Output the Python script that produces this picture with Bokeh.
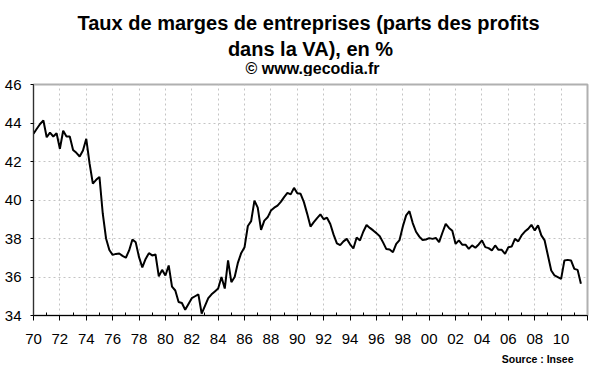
from bokeh.plotting import figure
from bokeh.models import FixedTicker, Range1d
from bokeh.layouts import column
from bokeh.core.properties import value
from bokeh.embed import file_html
from bokeh.resources import INLINE

# Quarterly margin rate (%), starting 1970 Q1
margin_rate = [
    43.44, 43.70, 43.95, 44.13,  # 1970
    43.26, 43.50, 43.30, 43.47,  # 1971
    42.66, 43.60, 43.30, 43.30,  # 1972
    42.60, 42.45, 42.26, 42.57,  # 1973
    43.18, 41.90, 40.85, 41.05,  # 1974
    41.20, 39.30, 38.00, 37.40,  # 1975
    37.15, 37.20, 37.22, 37.10,  # 1976
    37.00, 37.38, 37.95, 37.80,  # 1977
    37.03, 36.50, 36.94, 37.24,  # 1978
    37.12, 37.17, 36.03, 36.37,  # 1979
    36.08, 36.60, 35.50, 35.30,  # 1980
    34.70, 34.65, 34.30, 34.60,  # 1981
    34.90, 35.00, 35.10, 34.10,  # 1982
    34.50, 34.90, 35.10, 35.25,  # 1983
    35.40, 36.00, 35.40, 36.86,  # 1984
    35.73, 36.00, 36.75, 37.25,  # 1985
    37.55, 38.65, 38.90, 39.97,  # 1986
    39.60, 38.45, 38.93, 39.10,  # 1987
    39.45, 39.60, 39.71, 39.90,  # 1988
    40.15, 40.37, 40.29, 40.63,  # 1989
    40.35, 40.32, 39.89, 39.28,  # 1990
    38.62, 38.85, 39.06, 39.25,  # 1991
    39.00, 39.08, 38.75, 38.20,  # 1992
    37.75, 37.66, 37.85, 37.98,  # 1993
    37.70, 37.48, 38.05, 37.90,  # 1994
    38.35, 38.70, 38.55, 38.42,  # 1995
    38.28, 38.12, 37.80, 37.45,  # 1996
    37.43, 37.29, 37.72, 37.92,  # 1997
    38.62, 39.20, 39.42, 38.80,  # 1998
    38.35, 38.10, 37.92, 37.95,  # 1999
    38.02, 37.98, 38.03, 37.81,  # 2000
    38.30, 38.76, 38.55, 38.40,  # 2001
    37.72, 37.90, 37.68, 37.68,  # 2002
    37.46, 37.64, 37.52, 37.69,  # 2003
    37.90, 37.55, 37.50, 37.38,  # 2004
    37.64, 37.41, 37.41, 37.20,  # 2005
    37.55, 37.58, 37.98, 37.85,  # 2006
    38.16, 38.36, 38.50, 38.71,  # 2007
    38.42, 38.68, 38.16, 37.90,  # 2008
    37.12, 36.34, 36.08, 35.99,  # 2009
    35.90, 36.86, 36.89, 36.86,  # 2010
    36.42, 36.37, 35.65,         # 2011
]
start_year = 1970
quarter_years = [start_year + i / 4 for i in range(len(margin_rate))]

tick_years = list(range(1970, 2013, 2))
tick_labels = ["70", "72", "74", "76", "78", "80", "82", "84", "86", "88", "90",
               "92", "94", "96", "98", "00", "02", "04", "06", "08", "10", ""]
minor_years = list(range(1971, 2013, 2))
y_ticks = [34, 36, 38, 40, 42, 44, 46]

title_lines = ["Taux de marges de entreprises (parts des profits",
               "dans la VA), en %",
               "\u00a9 www.gecodia.fr"]
source_text = "Source : Insee"

FONT = "Liberation Sans"
W = 600
BL, BR = 33, 13                      # shared left / right borders (px)
HEAD_H, CHART_H, FOOT_H = 76, 276, 20


def blank(height):
    # pixel-coordinate panel (x = page px, y = px from its top)
    f = figure(width=W, height=height, output_backend="svg", toolbar_location=None,
               x_range=Range1d(BL, W - BR), y_range=Range1d(height, 0),
               x_axis_type=None, y_axis_type=None,
               min_border_left=BL, min_border_right=BR,
               min_border_top=0, min_border_bottom=0)
    f.outline_line_color = None
    f.grid.visible = False
    f.background_fill_color = "white"
    f.border_fill_color = "white"
    return f


# ---- header with the three title lines
head = blank(HEAD_H)
title_cx = [308, 310, 312]
title_base = [22.2, 48.8, 67.5]
title_sizes = ["20px", "20px", "16px"]
for txt, cx, by, fs in zip(title_lines, title_cx, title_base, title_sizes):
    head.text(x=[cx], y=[by], text=[txt], text_align="center",
              text_baseline="alphabetic", text_font=value(FONT),
              text_font_size=value(fs), text_font_style="bold",
              text_color="black")

# ---- main chart
p = figure(width=W, height=CHART_H, output_backend="svg", toolbar_location=None,
           x_range=Range1d(1970, 2012), y_range=Range1d(34, 46),
           min_border_left=BL, min_border_right=BR, min_border_top=8,
           min_border_bottom=37)
p.background_fill_color = "white"
p.border_fill_color = "white"
p.outline_line_color = "#b0b0b0"
p.outline_line_width = 2

p.line(quarter_years, margin_rate, line_color="black", line_width=2)

xt = FixedTicker(ticks=tick_years, minor_ticks=minor_years)
p.xaxis.ticker = xt
p.xaxis.major_label_overrides = {y: l for y, l in zip(tick_years, tick_labels)}
p.xaxis.major_label_text_font = FONT
p.xaxis.major_label_text_font_size = "15px"
p.xaxis.major_label_text_color = "black"
p.xaxis.major_label_standoff = 13
p.xaxis.major_tick_out = 5
p.xaxis.major_tick_in = 0
p.xaxis.minor_tick_out = 0
p.xaxis.minor_tick_in = 3
p.xaxis.axis_line_color = "black"
p.xaxis.major_tick_line_color = "black"
p.xaxis.minor_tick_line_color = "black"

yt = FixedTicker(ticks=y_ticks)
p.yaxis.ticker = yt
p.yaxis.major_label_text_font = FONT
p.yaxis.major_label_text_font_size = "15px"
p.yaxis.major_label_text_color = "black"
p.yaxis.major_label_standoff = 9
p.yaxis.major_tick_out = 3
p.yaxis.major_tick_in = 0
p.yaxis.minor_tick_line_color = None
p.yaxis.axis_line_color = "#303030"
p.yaxis.major_tick_line_color = "black"

p.xgrid.ticker = FixedTicker(ticks=tick_years[:-1])
p.ygrid.ticker = yt
for g in (p.xgrid, p.ygrid):
    g.grid_line_color = "#c4c4c4"
    g.grid_line_dash = "2 3"
    g.grid_line_width = 1
    g.minor_grid_line_color = None

# ---- footer with the source note
foot = blank(FOOT_H)
foot.text(x=[573], y=[6.5], text=[source_text], text_align="right",
          text_baseline="alphabetic", text_font=value(FONT),
          text_font_size=value("10.5px"), text_font_style="bold",
          text_color="black")

layout = column(head, p, foot, spacing=0)
open("out.html", "w").write(file_html(layout, INLINE))
